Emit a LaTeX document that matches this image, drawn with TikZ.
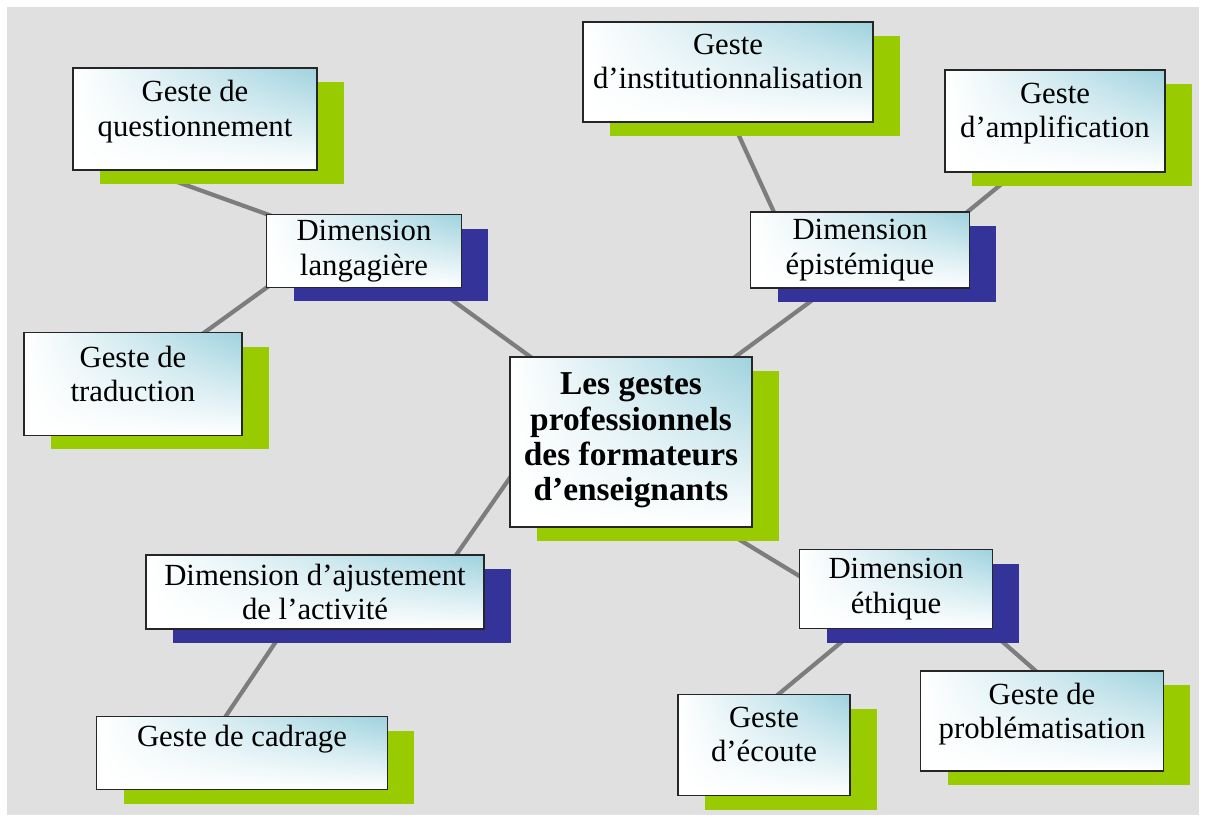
\documentclass[tikz,border=0pt]{standalone}
\usepackage{fontspec}
\setmainfont{Liberation Serif}
\usetikzlibrary{calc,shadows,shadings}

\definecolor{shadowgreen}{RGB}{153,204,0}
\definecolor{shadowblue}{RGB}{51,51,153}
\definecolor{boxblue}{RGB}{158,210,222}
\definecolor{linkgray}{RGB}{125,125,125}
\definecolor{backgray}{RGB}{224,224,224}

\pgfdeclarelayer{bg}
\pgfdeclarelayer{links}
\pgfsetlayers{bg,links,main}

\tikzset{
  box/.style={draw=black!85, line width=0.8pt, inner sep=2pt, align=center,
    upper right=boxblue, upper left=white, lower left=white, lower right=white,
    font=\fontsize{17.5}{19.5}\selectfont},
  geste/.style={box, text depth=12pt,
    general shadow={fill=shadowgreen, shadow xshift=0.54cm, shadow yshift=-0.28cm}},
  dimension/.style={box,
    general shadow={fill=shadowblue, shadow xshift=0.54cm, shadow yshift=-0.28cm}},
  link/.style={linkgray, line width=2.4pt, shorten <=-5pt, shorten >=-5pt},
}

\begin{document}
\begin{tikzpicture}[x=0.02cm, y=-0.02cm]
\useasboundingbox (0,0) rectangle (1206,822);

\begin{pgfonlayer}{bg}
\fill[white] (0,0) rectangle (1206,822);
\fill[backgray] (7,7) rectangle (1199,815);
\end{pgfonlayer}

% centre
\node[geste, text depth=6pt, minimum width=4.84cm, minimum height=3.4cm,
  font=\fontsize{19}{20}\selectfont\bfseries] (gestes) at (631,442)
  {Les gestes\\professionnels\\des formateurs\\d’enseignants};

% dimensions
\node[dimension, minimum width=3.9cm, minimum height=1.46cm] (langagiere) at (364,251) {Dimension\\langagière};
\node[dimension, minimum width=4.38cm, minimum height=1.52cm] (epistemique) at (860,250) {Dimension\\épistémique};
\node[dimension, minimum width=6.76cm, minimum height=1.48cm] (ajustement) at (315,592) {Dimension d’ajustement\\de l’activité};
\node[dimension, minimum width=3.86cm, minimum height=1.58cm] (ethique) at (896,589) {Dimension\\éthique};

% gestes
\node[geste, minimum width=4.88cm, minimum height=2.04cm] (questionnement) at (195,119) {Geste de\\questionnement};
\node[geste, minimum width=4.36cm, minimum height=2.06cm] (traduction) at (133,384) {Geste de\\traduction};
\node[geste, minimum width=5.8cm, minimum height=2cm] (institution) at (728,72) {Geste\\d’institutionnalisation};
\node[geste, minimum width=4.4cm, minimum height=2.04cm] (amplification) at (1055,121) {Geste\\d’amplification};
\node[geste, text depth=20pt, minimum width=5.82cm, minimum height=1.46cm] (cadrage) at (242,753) {Geste de cadrage};
\node[geste, minimum width=3.44cm, minimum height=2.02cm] (ecoute) at (764,745) {Geste\\d’écoute};
\node[geste, minimum width=4.86cm, minimum height=2cm] (problematisation) at (1042,721) {Geste de\\problématisation};

% liens
\begin{pgfonlayer}{links}
\draw[link] ($(questionnement.south west)!0.3!(questionnement.south east)$) -- (langagiere.north west);
\draw[link] (langagiere.south west) -- (traduction.center);
\draw[link] ($(langagiere.south west)+(170,0)$) -- ($(gestes.north west)+(48,20)$);
\draw[link] ($(gestes.north east)+(-48,23)$) -- ($(epistemique.south west)+(78,0)$);
\draw[link] ($(epistemique.north west)+(32,18)$) -- ($(institution.south)+(5,0)$);
\draw[link] ($(epistemique.north east)+(-24,18)$) -- ($(amplification.south west)+(71,0)$);
\draw[link] ($(gestes.west)+(6,28)$) -- ($(ajustement.north east)+(-42,20)$);
\draw[link] ($(ajustement.south)+(-31,0)$) -- ($(cadrage.north)+(-16,0)$);
\draw[link] ($(gestes.south east)+(-33,0)$) -- ($(ethique.north west)+(20,39)$);
\draw[link] ($(ethique.south)+(-39,0)$) -- ($(ecoute.north)+(15,0)$);
\draw[link] ($(ethique.south east)+(-5,0)$) -- ($(problematisation.north)+(-7,0)$);
\end{pgfonlayer}

\end{tikzpicture}
\end{document}
